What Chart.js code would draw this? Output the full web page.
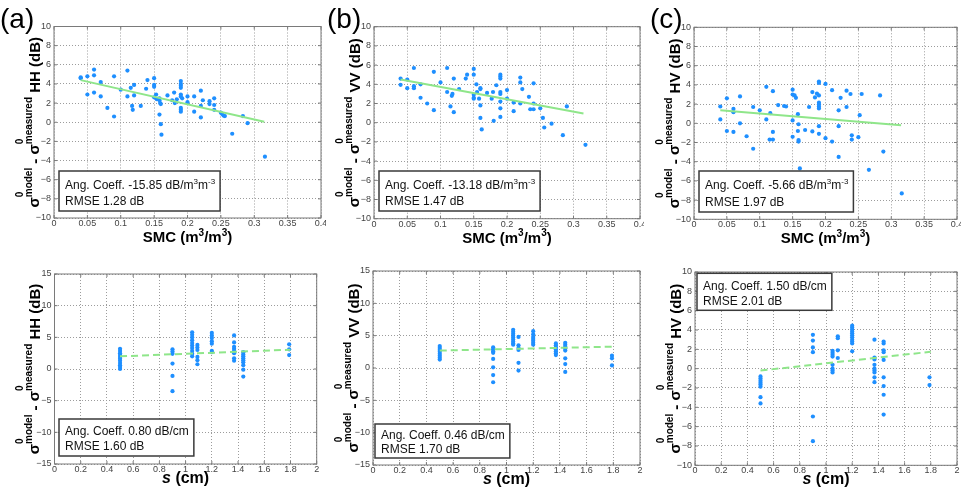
<!DOCTYPE html>
<html>
<head>
<meta charset="utf-8">
<script src="https://cdn.jsdelivr.net/npm/chart.js@4.4.1/dist/chart.umd.min.js"></script>
<style>
  html, body { margin: 0; padding: 0; background: #fff; }
  #wrap { position: relative; width: 961px; height: 491px; overflow: hidden; }
  canvas { position: absolute; }
</style>
</head>
<body>
<div id="wrap">
  <canvas id="pa"></canvas>
  <canvas id="pb"></canvas>
  <canvas id="pc"></canvas>
  <canvas id="pd"></canvas>
  <canvas id="pe"></canvas>
  <canvas id="pf"></canvas>
</div>
<script>
'use strict';

// ---- data: top row, x = SMC (m3/m3), y = sigma0 model - measured (dB) ----
const smcHH = [0.04, 0.04, 0.05, 0.05, 0.06, 0.06, 0.06, 0.07, 0.07, 0.08,
               0.09, 0.09, 0.10, 0.11, 0.11, 0.115, 0.117, 0.118, 0.12, 0.12,
               0.13, 0.138, 0.14, 0.15, 0.15, 0.15, 0.15, 0.153, 0.154, 0.158,
               0.158, 0.159, 0.16, 0.158, 0.16, 0.161, 0.17, 0.177, 0.18, 0.181,
               0.184, 0.19, 0.19, 0.19, 0.19, 0.19, 0.19, 0.19, 0.19, 0.19,
               0.192, 0.20, 0.20, 0.21, 0.21, 0.22, 0.22, 0.22, 0.223, 0.233,
               0.233, 0.24, 0.24, 0.24, 0.25, 0.252, 0.254, 0.256, 0.267, 0.283,
               0.29, 0.316];
const errHH  = [4.6, 4.7, 4.8, 2.9, 5.5, 4.9, 3.1, 4.2, 2.7, 1.5,
                4.8, 0.6, 3.4, 5.4, 2.7, 3.6, 1.7, 1.3, 3.9, 2.8,
                1.7, 3.5, 4.4, 4.6, 3.9, 3.7, 2.6, 2.9, 2.4, 2.5,
                2.3, 2.0, 1.9, 0.8, -0.2, -1.3, 2.8, 2.3, 3.1, 2.0,
                2.4, 4.3, 4.0, 3.8, 3.6, 2.9, 2.7, 1.5, 1.3, 1.1,
                2.5, 2.7, 2.1, 2.7, 1.1, 3.3, 1.7, 0.5, 2.3, 2.2,
                1.9, 2.5, 1.8, 1.3, 1.0, 0.85, 0.7, 0.65, -1.2, 0.65,
                -0.1, -3.6];

const smcVV = [0.04, 0.04, 0.05, 0.05, 0.06, 0.06, 0.06, 0.07, 0.07, 0.08,
               0.09, 0.09, 0.10, 0.11, 0.11, 0.115, 0.117, 0.118, 0.12, 0.12,
               0.128, 0.138, 0.14, 0.15, 0.15, 0.15, 0.15, 0.15, 0.154, 0.155,
               0.158, 0.16, 0.16, 0.16, 0.16, 0.162, 0.17, 0.177, 0.179, 0.18,
               0.184, 0.19, 0.19, 0.19, 0.19, 0.19, 0.19, 0.19, 0.19, 0.20,
               0.20, 0.21, 0.21, 0.22, 0.22, 0.22, 0.223, 0.233, 0.235, 0.24,
               0.24, 0.24, 0.25, 0.254, 0.256, 0.267, 0.284, 0.29, 0.318];
const errVV  = [4.6, 3.95, 4.5, 3.6, 5.7, 3.8, 3.6, 4.0, 2.6, 2.0,
                5.3, 1.3, 4.2, 5.7, 3.2, 1.7, 2.8, 3.0, 4.6, 1.1,
                3.5, 4.6, 5.0, 5.6, 5.0, 2.9, 2.6, 2.5, 4.0, 3.2,
                2.5, 3.6, 3.5, 1.8, 0.5, -0.7, 3.1, 2.5, 3.2, 0.2,
                3.9, 5.0, 4.8, 4.6, 3.2, 3.0, 2.2, 1.5, 0.6, 3.4,
                2.5, 2.1, 1.2, 4.7, 4.2, 2.0, 3.5, 2.7, 1.4, 4.1,
                2.0, 1.4, 1.5, 0.5, -0.5, -0.1, -1.3, 1.7, -2.3];

const smcHV = [0.04, 0.04, 0.05, 0.05, 0.06, 0.06, 0.06, 0.07, 0.07, 0.08,
               0.09, 0.09, 0.10, 0.11, 0.11, 0.116, 0.115, 0.12, 0.12, 0.12,
               0.128, 0.137, 0.14, 0.15, 0.15, 0.153, 0.155, 0.15, 0.15, 0.158,
               0.159, 0.158, 0.159, 0.159, 0.161, 0.169, 0.175, 0.18, 0.18, 0.184,
               0.19, 0.19, 0.187, 0.19, 0.19, 0.19, 0.19, 0.19, 0.19, 0.19,
               0.20, 0.20, 0.21, 0.21, 0.22, 0.22, 0.22, 0.223, 0.232, 0.232,
               0.238, 0.24, 0.24, 0.25, 0.252, 0.255, 0.266, 0.283, 0.288, 0.316];
const errHV  = [1.75, 0.4, 2.6, -0.8, 1.5, 1.15, -0.9, 2.8, 0.0, -1.35,
                1.7, -2.65, 1.35, 3.8, 0.4, 1.05, -1.7, 3.35, -0.9, -1.7,
                1.9, 1.8, 1.75, 3.5, 3.0, 2.9, 2.65, 0.3, -1.4, 0.95,
                -0.1, -0.8, -1.75, -1.9, -4.7, -0.7, 1.7, 3.25, -0.85, 2.7,
                4.35, 4.2, 3.1, 2.9, 2.15, 1.95, 1.75, 1.55, -0.3, -1.1,
                4.1, -1.55, 3.45, -1.9, 1.35, -0.3, -3.5, 2.65, 3.4, 1.7,
                3.05, -1.25, -1.7, -1.45, 0.85, 3.05, -4.85, 2.9, -2.95, -7.3];

// linear fits (end points)
const smcFit   = [0.04, 0.315];
const fitSmcHH = [4.4, 0.05];
const fitSmcVV = [4.5, 0.95];
const fitSmcHV = [1.35, -0.2];

// ---- data: bottom row, x = s (cm) ----
const sHH = [0.5, 0.5, 0.5, 0.5, 0.5, 0.5, 0.5, 0.5, 0.5, 0.5, 0.5,
             0.9, 0.9, 0.9, 0.9, 0.9, 0.9,
             1.05, 1.05, 1.05, 1.05, 1.05, 1.05, 1.05, 1.05, 1.05, 1.05,
             1.09, 1.09, 1.09, 1.09, 1.09, 1.09,
             1.2, 1.2, 1.2, 1.2, 1.2, 1.2, 1.2,
             1.37, 1.37, 1.37, 1.37, 1.37, 1.37, 1.37, 1.37,
             1.44, 1.44, 1.44, 1.44, 1.44, 1.44, 1.44, 1.44, 1.44,
             1.79, 1.79, 1.79];
const sErrHH = [3.2, 2.85, 2.5, 2.2, 1.9, 1.6, 1.3, 0.95, 0.6, 0.3, 0.0,
                3.1, 2.75, 2.4, 0.85, -1.1, -3.5,
                5.8, 5.4, 5.0, 4.55, 4.1, 3.7, 3.3, 2.85, 2.4, 2.0,
                3.8, 3.4, 3.0, 1.9, 1.4, 0.75,
                5.7, 5.3, 4.9, 4.4, 4.0, 2.85, 2.65,
                5.3, 4.2, 3.5, 3.2, 2.85, 2.5, 1.7, 1.3,
                2.65, 2.3, 2.0, 1.7, 1.4, 1.05, 0.6, -0.1, -1.2,
                3.9, 3.1, 2.2];

const sVV = [0.5, 0.5, 0.5, 0.5, 0.5, 0.5, 0.5, 0.5,
             0.9, 0.9, 0.9, 0.9, 0.9, 0.9, 0.9, 0.9,
             1.05, 1.05, 1.05, 1.05, 1.05, 1.05, 1.05, 1.05, 1.05,
             1.09, 1.09, 1.09, 1.09, 1.09, 1.09,
             1.2, 1.2, 1.2, 1.2, 1.2, 1.2, 1.2,
             1.37, 1.37, 1.37, 1.37, 1.37, 1.37, 1.37,
             1.44, 1.44, 1.44, 1.44, 1.44, 1.44, 1.44, 1.44,
             1.79, 1.79, 1.79];
const sErrVV = [3.4, 3.1, 2.8, 2.5, 2.2, 1.9, 1.6, 1.3,
                3.2, 2.9, 2.6, 2.35, 1.4, 0.1, -1.1, -2.2,
                5.9, 5.6, 5.3, 5.0, 4.7, 4.4, 4.1, 3.8, 3.6,
                4.8, 3.5, 3.1, 2.8, 0.8, -0.4,
                5.7, 5.2, 4.8, 4.5, 4.2, 3.9, 3.6,
                3.8, 3.5, 3.2, 2.9, 2.6, 2.3, 2.0,
                3.9, 3.6, 3.3, 3.0, 2.7, 1.5, 0.6, -0.6,
                1.9, 1.5, 0.4];

const sHV = [0.5, 0.5, 0.5, 0.5, 0.5, 0.5, 0.5, 0.5,
             0.9, 0.9, 0.9, 0.9, 0.9, 0.9,
             1.05, 1.05, 1.05, 1.05, 1.05, 1.05, 1.05, 1.05,
             1.09, 1.09, 1.09, 1.09,
             1.2, 1.2, 1.2, 1.2, 1.2, 1.2, 1.2, 1.2, 1.2, 1.2, 1.2,
             1.37, 1.37, 1.37, 1.37, 1.37, 1.37, 1.37, 1.37, 1.37,
             1.44, 1.44, 1.44, 1.44, 1.44, 1.44, 1.44, 1.44, 1.44,
             1.79, 1.79];
const sErrHV = [-0.8, -1.03, -1.24, -1.45, -1.65, -1.86, -2.95, -3.6,
                3.5, 2.9, 2.2, 1.7, -4.95, -7.5,
                1.85, 1.65, 1.45, 1.25, 0.4, 0.0, -0.2, -0.4,
                3.35, 3.15, 1.9, 1.1,
                4.45, 4.25, 4.05, 3.85, 3.65, 3.45, 3.25, 3.0, 2.8, 2.6, 1.8,
                3.0, 1.15, 0.95, 0.4, 0.0, -0.2, -0.4, -0.9, -1.4,
                2.8, 2.6, 1.9, 1.7, 0.9, -0.9, -1.8, -2.7, -4.75,
                -0.9, -1.7];

const sFit   = [0.5, 1.8];
const fitSHH = [2.0, 3.05];
const fitSVV = [2.7, 3.3];
const fitSHV = [-0.2, 1.75];

// ---- text ----
const notes = {
  pa: [[['Ang. Coeff. -15.85 dB/m'], ['3', 'sup'], ['m'], ['-3', 'sup']], [['RMSE 1.28 dB']]],
  pb: [[['Ang. Coeff. -13.18 dB/m'], ['3', 'sup'], ['m'], ['-3', 'sup']], [['RMSE 1.47 dB']]],
  pc: [[['Ang. Coeff. -5.66 dB/m'], ['3', 'sup'], ['m'], ['-3', 'sup']], [['RMSE 1.97 dB']]],
  pd: [[['Ang. Coeff. 0.80 dB/cm']], [['RMSE 1.60 dB']]],
  pe: [[['Ang. Coeff. 0.46 dB/cm']], [['RMSE 1.70 dB']]],
  pf: [[['Ang. Coeff. 1.50 dB/cm']], [['RMSE 2.01 dB']]]
};
const smcTitle = [['SMC (m'], ['3', 'sup'], ['/m'], ['3', 'sup'], [')']];
const sTitle = [['s', 'it'], [' (cm)']];

const FF = '"Liberation Sans", Arial, Helvetica, sans-serif';

const panels = [
  { id: 'pa', L: 0,   T: 0,   W: 326, H: 250, area: [54, 26.5, 321, 218],   xs: smcHH, ys: errHH,  fx: smcFit, fy: fitSmcHH, pol: 'HH', letter: '(a)', letterX: 0,
    xMax: 0.4, xStep: 0.05, yMin: -10, yMax: 10, yStep: 2, xTitle: smcTitle, dash: [], box: { top: false, dx: 5, dy: 7, h: 40 } },
  { id: 'pb', L: 322, T: 0,   W: 322, H: 250, area: [374, 26.7, 640.7, 218.7], xs: smcVV, ys: errVV, fx: smcFit, fy: fitSmcVV, pol: 'VV', letter: '(b)', letterX: 5,
    xMax: 0.4, xStep: 0.05, yMin: -10, yMax: 10, yStep: 2, xTitle: smcTitle, dash: [], box: { top: false, dx: 5, dy: 7.7, h: 40 } },
  { id: 'pc', L: 642, T: 0,   W: 319, H: 250, area: [694, 27.3, 960.7, 219.3], xs: smcHV, ys: errHV, fx: smcFit, fy: fitSmcHV, pol: 'HV', letter: '(c)', letterX: 8,
    xMax: 0.4, xStep: 0.05, yMin: -10, yMax: 10, yStep: 2, xTitle: smcTitle, dash: [], box: { top: false, dx: 5, dy: 7.3, h: 41 } },
  { id: 'pd', L: 0,   T: 250, W: 326, H: 241, area: [54.5, 274, 316.7, 464], xs: sHH, ys: sErrHH, fx: sFit, fy: fitSHH, pol: 'HH', letter: '',
    xMax: 2, xStep: 0.2, yMin: -15, yMax: 15, yStep: 5, xTitle: sTitle, dash: [7, 4], box: { top: false, dx: 4.5, dy: 8, h: 37 } },
  { id: 'pe', L: 322, T: 250, W: 322, H: 241, area: [373, 271, 642, 465],  xs: sVV, ys: sErrVV, fx: sFit, fy: fitSVV, pol: 'VV', letter: '',
    xMax: 2, xStep: 0.2, yMin: -15, yMax: 15, yStep: 5, xTitle: sTitle, dash: [7, 4], box: { top: false, dx: 2, dy: 7, h: 34 } },
  { id: 'pf', L: 642, T: 250, W: 319, H: 241, area: [695, 272, 958, 465.3], xs: sHV, ys: sErrHV, fx: sFit, fy: fitSHV, pol: 'HV', letter: '',
    xMax: 2, xStep: 0.2, yMin: -10, yMax: 10, yStep: 2, xTitle: sTitle, dash: [7, 4], box: { top: true, dx: 2, dy: 1.3, h: 37 } }
];
const panelById = {};
panels.forEach(p => { panelById[p.id] = p; });

function drawRich(ctx, segs, x, y, size, bold) {
  let cx = x;
  for (const [t, kind] of segs) {
    const s = kind === 'sup' ? Math.round(size * 0.68) : size;
    ctx.font = (kind === 'it' ? 'italic ' : '') + (bold ? 'bold ' : '') + s + 'px ' + FF;
    ctx.fillText(t, cx, kind === 'sup' ? y - size * 0.42 : y);
    cx += ctx.measureText(t).width;
  }
  return cx - x;
}
function richWidth(ctx, segs, size, bold) {
  let w = 0;
  for (const [t, kind] of segs) {
    const s = kind === 'sup' ? Math.round(size * 0.68) : size;
    ctx.font = (kind === 'it' ? 'italic ' : '') + (bold ? 'bold ' : '') + s + 'px ' + FF;
    w += ctx.measureText(t).width;
  }
  return w;
}

// rotated y title: sigma^0_model - sigma^0_measured POL (dB)
function drawYTitle(ctx, bx, cy, pol) {
  const big = 'bold 15px ' + FF, sm = 'bold 10px ' + FF;
  const pieces = [
    { t: '\u03c3', f: big, dy: -1 },
    { stack: [{ t: '0', f: sm, dy: -17 }, { t: 'model', f: sm, dy: -8 }] },
    { t: ' - ', f: big, dy: 0 },
    { t: '\u03c3', f: big, dy: -1 },
    { stack: [{ t: '0', f: sm, dy: -17 }, { t: 'measured', f: sm, dy: -8 }] },
    { t: ' ' + pol + ' (dB)', f: big, dy: 0 }
  ];
  let total = 0;
  pieces.forEach(pc => {
    if (pc.stack) {
      pc.w = Math.max(...pc.stack.map(s => { ctx.font = s.f; return ctx.measureText(s.t).width; }));
    } else { ctx.font = pc.f; pc.w = ctx.measureText(pc.t).width; }
    total += pc.w;
  });
  ctx.save();
  ctx.translate(bx, cy);
  ctx.rotate(-Math.PI / 2);
  ctx.fillStyle = '#000';
  ctx.textBaseline = 'alphabetic';
  let x = -total / 2;
  pieces.forEach(pc => {
    (pc.stack || [pc]).forEach(s => { ctx.font = s.f; ctx.fillText(s.t, x, s.dy); });
    x += pc.w;
  });
  ctx.restore();
}

const decor = {
  id: 'decor',
  afterDatasetsDraw(chart) {
    const p = panelById[chart.canvas.id];
    const { ctx, chartArea: a, scales } = chart;
    ctx.save();
    // axes box with inward ticks
    ctx.strokeStyle = '#7a7a7a';
    ctx.lineWidth = 1;
    ctx.strokeRect(a.left, a.top, a.right - a.left, a.bottom - a.top);
    ctx.beginPath();
    scales.x.ticks.forEach(t => {
      const px = scales.x.getPixelForValue(t.value);
      ctx.moveTo(px, a.bottom); ctx.lineTo(px, a.bottom - 3);
      ctx.moveTo(px, a.top); ctx.lineTo(px, a.top + 3);
    });
    scales.y.ticks.forEach(t => {
      const py = scales.y.getPixelForValue(t.value);
      ctx.moveTo(a.left, py); ctx.lineTo(a.left + 3, py);
      ctx.moveTo(a.right, py); ctx.lineTo(a.right - 3, py);
    });
    ctx.stroke();

    ctx.fillStyle = '#000';
    ctx.textBaseline = 'alphabetic';
    ctx.textAlign = 'left';

    // panel letter
    if (p.letter) {
      ctx.font = '28px ' + FF;
      ctx.fillText(p.letter, p.letterX, 28);
    }

    // y title
    drawYTitle(ctx, a.left - 14.5, (a.top + a.bottom) / 2, p.pol);

    // x title
    const xs = p.xTitle === sTitle ? 16 : 15;
    const xw = richWidth(ctx, p.xTitle, xs, true);
    const xb = p.xTitle === sTitle ? a.bottom + 18.5 : a.bottom + 24;
    drawRich(ctx, p.xTitle, (a.left + a.right) / 2 - xw / 2, xb, xs, true);

    // annotation box
    const lines = notes[p.id];
    const tw = Math.max(...lines.map(l => richWidth(ctx, l, 12, false)));
    const bx = a.left + p.box.dx;
    const by = p.box.top ? a.top + p.box.dy : a.bottom - p.box.dy - p.box.h;
    ctx.fillStyle = '#fff';
    ctx.fillRect(bx, by, tw + 11, p.box.h);
    ctx.strokeStyle = '#3a3a3a';
    ctx.lineWidth = 1.5;
    ctx.strokeRect(bx, by, tw + 11, p.box.h);
    ctx.fillStyle = '#111';
    drawRich(ctx, lines[0], bx + 6, by + p.box.h * 0.44, 12, false);
    drawRich(ctx, lines[1], bx + 6, by + p.box.h * 0.85, 12, false);
    ctx.restore();
  }
};

function tickLbl(v) {
  const r = Math.round(v * 100) / 100;
  return r < 0 ? '\u2212' + Math.abs(r) : String(r);
}

function makeChart(p) {
  const cv = document.getElementById(p.id);
  cv.width = p.W; cv.height = p.H;
  cv.style.left = p.L + 'px';
  cv.style.top = p.T + 'px';
  const [l, t, r, b] = p.area;
  const yW = 30, xH = 14;
  const grid = { color: '#9c9c9c', lineWidth: 1, drawTicks: false };
  const border = { display: false, dash: [1, 2] };
  const tickFont = { family: FF, size: 9 };
  return new Chart(cv, {
    type: 'scatter',
    data: {
      datasets: [
        {
          data: p.fx.map((x, i) => ({ x: x, y: p.fy[i] })),
          showLine: true, borderColor: '#8fe68a', borderWidth: 2, borderDash: p.dash,
          pointRadius: 0, order: 0
        },
        {
          data: p.xs.map((x, i) => ({ x: x, y: p.ys[i] })),
          backgroundColor: '#1e8fff', borderColor: '#1e8fff', borderWidth: 0,
          pointRadius: 2.1, order: 1
        }
      ]
    },
    options: {
      responsive: false,
      devicePixelRatio: 1,
      animation: false,
      layout: { padding: { left: l - p.L - yW, top: t - p.T, right: p.L + p.W - r, bottom: p.T + p.H - b - xH } },
      plugins: { legend: { display: false }, tooltip: { enabled: false } },
      scales: {
        x: {
          type: 'linear', min: 0, max: p.xMax,
          grid: grid, border: border,
          ticks: { stepSize: p.xStep, color: '#444', font: tickFont, padding: 0, maxRotation: 0, autoSkip: false, callback: tickLbl },
          afterFit(s) { s.height = xH; s.paddingLeft = 0; s.paddingRight = 0; }
        },
        y: {
          type: 'linear', min: p.yMin, max: p.yMax,
          grid: grid, border: border,
          ticks: { stepSize: p.yStep, color: '#444', font: tickFont, padding: 3, autoSkip: false, callback: tickLbl },
          afterFit(s) { s.width = yW; s.paddingTop = 0; s.paddingBottom = 0; }
        }
      }
    },
    plugins: [decor]
  });
}

panels.forEach(makeChart);
</script>
</body>
</html>
